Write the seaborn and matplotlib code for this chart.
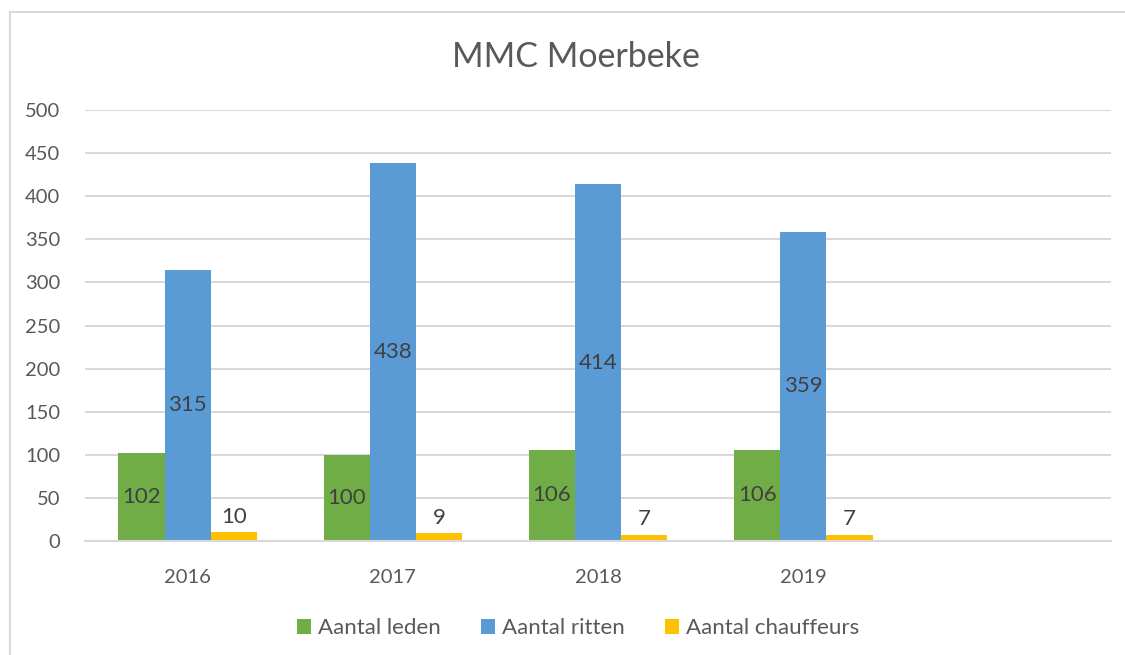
import pandas as pd
import matplotlib.pyplot as plt
import seaborn as sns
from matplotlib.lines import Line2D

# data
years = ["2016", "2017", "2018", "2019"]
leden = [102, 100, 106, 106]
ritten = [315, 438, 414, 359]
chauffeurs = [10, 9, 7, 7]
series = ["Aantal leden", "Aantal ritten", "Aantal chauffeurs"]
colors = ["#70AD47", "#5B9BD5", "#FFC000"]

df = pd.DataFrame({
    "Jaar": years * 3,
    "Waarde": leden + ritten + chauffeurs,
    "Reeks": [series[0]] * 4 + [series[1]] * 4 + [series[2]] * 4,
})

sns.set_theme(style="white")
plt.rcParams["font.family"] = ["Lato", "DejaVu Sans"]
text_color = "#595959"
grid_color = "#D9D9D9"

fig = plt.figure(figsize=(11.25, 6.55), dpi=100)
fig.patch.set_linewidth(0)
ax = fig.add_axes([0.0756, 0.174, 0.912, 0.658])

sns.barplot(data=df, x="Jaar", y="Waarde", hue="Reeks", order=years,
            hue_order=series, palette=colors, width=0.675, gap=0,
            linewidth=0, saturation=1, ax=ax, legend=True)

# extra empty category slot as in the original
ax.set_xlim(-0.5, 4.5)
ax.set_ylim(0, 500)
ax.set_yticks(range(0, 501, 50))
ax.yaxis.grid(True, color=grid_color, linewidth=1.5)
ax.set_axisbelow(True)
for side in ["top", "right", "left"]:
    ax.spines[side].set_visible(False)
ax.spines["bottom"].set_color(grid_color)
ax.spines["bottom"].set_linewidth(1.5)
ax.tick_params(axis="y", length=0, labelsize=14.5, colors=text_color, pad=18)
ax.tick_params(axis="x", length=0, labelsize=14.5, colors=text_color, pad=20)
ax.set_xlabel("")
ax.set_ylabel("")

for i, cont in enumerate(ax.containers):
    if i < 2:
        ax.bar_label(cont, label_type="center", fontsize=16, color="#404040")
    else:
        ax.bar_label(cont, label_type="edge", padding=4, fontsize=16, color="#404040")

fig.text(576 / 1125, 1 - 57 / 655, "MMC Moerbeke", fontsize=24.5,
         color=text_color, ha="center", va="center")

handles, labels = ax.get_legend_handles_labels()
ax.get_legend().remove()
leg = fig.legend(handles, labels, loc="center", bbox_to_anchor=(578 / 1125, 1 - 628 / 655),
                 ncol=3, frameon=False, fontsize=16, handlelength=0.65, handleheight=0.65,
                 columnspacing=1.8, handletextpad=0.3)
for t in leg.get_texts():
    t.set_color(text_color)

# light frame around the chart area, only top and left edges visible
fig.add_artist(Line2D([10 / 1125, 1.01], [1 - 12 / 655] * 2, transform=fig.transFigure,
                      color=grid_color, linewidth=1.5))
fig.add_artist(Line2D([10 / 1125] * 2, [-0.01, 1 - 12 / 655], transform=fig.transFigure,
                      color=grid_color, linewidth=1.5))

fig.savefig("out.png", dpi=100)
